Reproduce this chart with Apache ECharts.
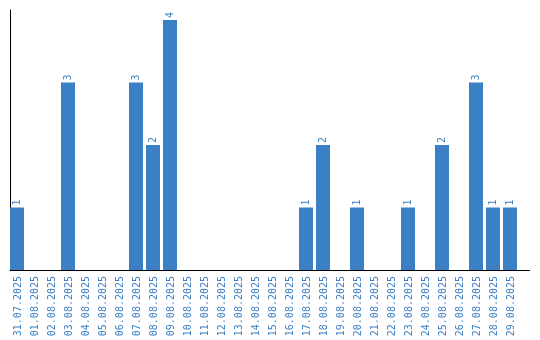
<!DOCTYPE html>
<html><head><meta charset="utf-8">
<script src="https://cdn.jsdelivr.net/npm/echarts@6/dist/echarts.min.js"></script>
<style>html,body{margin:0;padding:0;background:#fff}#c{width:540px;height:340px}</style>
</head><body><div id="c"></div>
<script>
var categories = ["31.07.2025","01.08.2025","02.08.2025","03.08.2025","04.08.2025","05.08.2025","06.08.2025","07.08.2025","08.08.2025","09.08.2025","10.08.2025","11.08.2025","12.08.2025","13.08.2025","14.08.2025","15.08.2025","16.08.2025","17.08.2025","18.08.2025","19.08.2025","20.08.2025","21.08.2025","22.08.2025","23.08.2025","24.08.2025","25.08.2025","26.08.2025","27.08.2025","28.08.2025","29.08.2025"];
var values = [1,0,0,3,0,0,0,3,2,4,0,0,0,0,0,0,0,1,2,0,1,0,0,1,0,2,0,3,1,1];
var blue = '#3b7fc4';
var chart = echarts.init(document.getElementById('c'), null, {renderer:'canvas'});
chart.setOption({
  animation:false,
  grid:{left:10, top:10, width:510, bottom:70},
  xAxis:{type:'category', data:categories,
    axisLine:{show:true, lineStyle:{color:'#000', width:1}},
    axisTick:{show:false},
    axisLabel:{rotate:90, interval:0, margin:6, color:blue, fontFamily:'DejaVu Sans Mono', fontSize:10}
  },
  yAxis:{type:'value', min:0, max:4.16,
    axisLine:{show:true, lineStyle:{color:'#000', width:1}},
    axisTick:{show:false}, axisLabel:{show:false}, splitLine:{show:false}
  },
  series:[
    {type:'bar', data:values.map(function(v){return v===0?null:v;}), barWidth:14, barGap:'0%',
     itemStyle:{color:blue},
     label:{show:true, position:'top', rotate:90, align:'left', verticalAlign:'middle', distance:2,
       color:blue, fontFamily:'DejaVu Sans Mono', fontSize:10}},
    {type:'bar', data:values.map(function(){return null;}), barWidth:3, barGap:'0%'}
  ],
  graphic:[{type:'line', shape:{x1:520, y1:270.5, x2:530, y2:270.5}, style:{stroke:'#000', lineWidth:1}}]
});
</script></body></html>
